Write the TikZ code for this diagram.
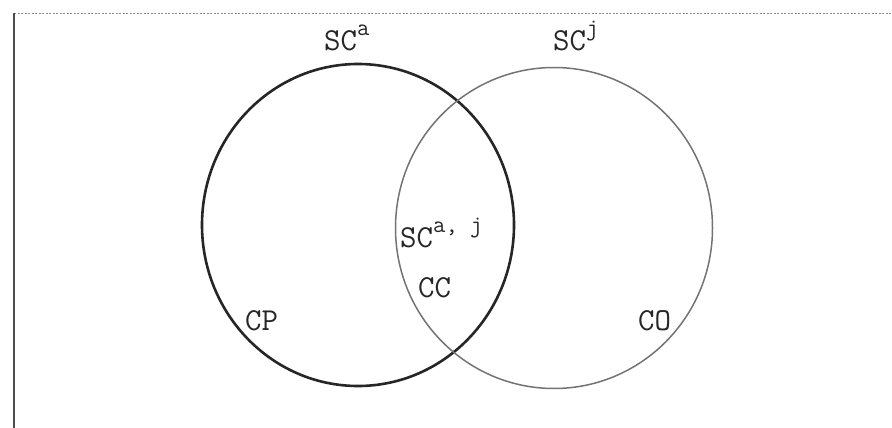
\documentclass[tikz,border=0pt]{standalone}
\usepackage{fontspec}
\usetikzlibrary{shapes.geometric}
\newcommand{\upx}[1]{\raisebox{15pt}{\fontsize{24}{26}\selectfont #1}}
\tikzset{
  lbl/.style={font=\ttfamily\fontsize{32}{34}\selectfont, inner sep=0pt, text=black!85, anchor=base west},
  setA/.style={draw=black!85, line width=2.6pt, ellipse, inner sep=0pt},
  setB/.style={draw=black!55, line width=1.5pt, ellipse, inner sep=0pt},
  frameL/.style={draw=black!70, line width=1.2pt},
  frameT/.style={draw=black!45, line width=0.9pt, dash pattern=on 2pt off 1.5pt}
}
\begin{document}
\begin{tikzpicture}[x=1pt,y=-1pt]
\useasboundingbox (0,0) rectangle (892,428);
\coordinate (tl) at (14,13);
\coordinate (tr) at (892,13);
\coordinate (bl) at (14,428);
\draw[frameT] (tl) -- (tr);
\draw[frameL] (tl) -- (bl);
\node[setA, minimum width=312pt, minimum height=322pt] (A) at (358,225) {};
\node[setB, minimum width=317pt, minimum height=321pt] (B) at (554,228) {};
\node[lbl] (sca) at (324,51) {SC\upx{a}};
\node[lbl] (scj) at (553,51) {SC\upx{j}};
\node[lbl] (scaj) at (400,247) {SC\upx{a, j}};
\node[lbl] (cc) at (418,297) {CC};
\node[lbl] (cp) at (245,330) {CP};
\node[lbl] (co) at (638,330) {CO};
\end{tikzpicture}
\end{document}
